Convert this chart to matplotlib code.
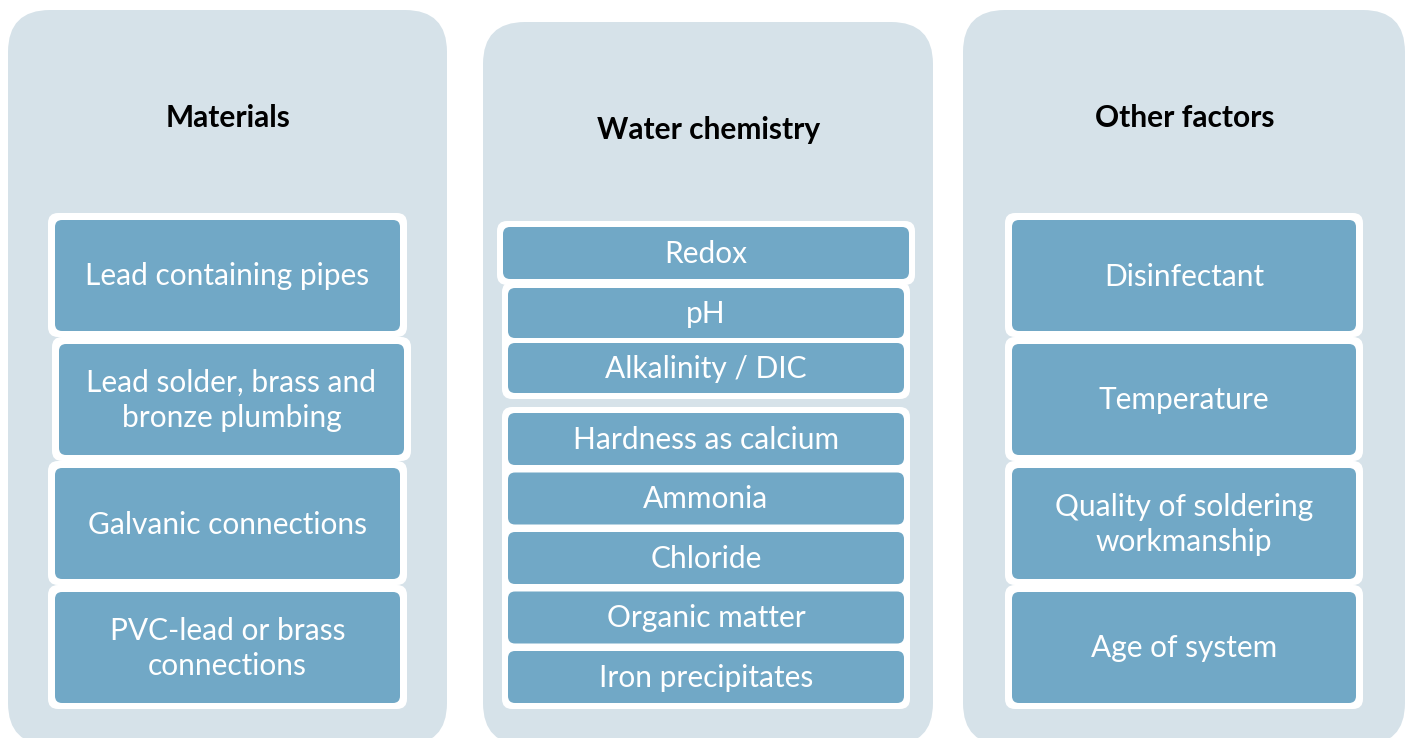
import matplotlib
matplotlib.use("Agg")
import matplotlib.pyplot as plt
from matplotlib.patches import FancyBboxPatch

# panel titles and the items inside them
titles = ["Materials", "Water chemistry", "Other factors"]
materials = ["Lead containing pipes", "Lead solder, brass and\nbronze plumbing",
             "Galvanic connections", "PVC-lead or brass\nconnections"]
chemistry_groups = [["Redox"],
                    ["pH", "Alkalinity / DIC"],
                    ["Hardness as calcium", "Ammonia", "Chloride", "Organic matter", "Iron precipitates"]]
other = ["Disinfectant", "Temperature", "Quality of soldering\nworkmanship", "Age of system"]

# colours
c_panel = "#D6E2E9"
c_box = "#71A8C6"
c_edge = "white"

plt.rcParams['font.family'] = ['Lato', 'DejaVu Sans']

fig = plt.figure(figsize=(14.08, 7.38), dpi=100)
ax = fig.add_axes([0, 0, 1, 1])
ax.set_xlim(0, 1408)
ax.set_ylim(738, 0)
ax.axis("off")


def rbox(x0, y0, x1, y1, r, color, z):
    p = FancyBboxPatch((x0, y0), x1 - x0, y1 - y0,
                       boxstyle="round,pad=0,rounding_size=%s" % r,
                       fc=color, ec="none", zorder=z)
    ax.add_patch(p)


def item(x0, y0, x1, y1, label, border=True):
    if border:
        rbox(x0 - 7, y0 - 7, x1 + 7, y1 + 6, 10, c_edge, 2)
    rbox(x0, y0, x1, y1, 7, c_box, 3)
    ax.text((x0 + x1) / 2, (y0 + y1) / 2 + 1, label, color="white", fontsize=21.5,
            ha="center", va="center", linespacing=1.32, zorder=4)


# big background panels
panels = [(8, 10, 447, 745), (483, 22, 933, 745), (963, 10, 1405, 745)]
title_y = [118, 130, 118]
for (x0, y0, x1, y1), t, ty in zip(panels, titles, title_y):
    rbox(x0, y0, x1, y1, 42, c_panel, 1)
    ax.text((x0 + x1) / 2 + 1, ty, t, fontsize=21.5, fontweight="bold",
            ha="center", va="center", color="black", zorder=4)

# side columns: 4 equal boxes
box_h = 111
pitch = 124
top = 220
dx_left = [0, 4, 0, 0]
for i, lab in enumerate(materials):
    y0 = top + i * pitch
    item(55 + dx_left[i], y0, 400 + dx_left[i], y0 + box_h, lab)
for i, lab in enumerate(other):
    y0 = top + i * pitch
    item(1012, y0, 1356, y0 + box_h, lab)

# middle column: grouped thin boxes
group_h = [52, 50, 52]
group_gap = [7.5, 5, 7.5]
group_top = [227, 288, 413]
group_x = [(503, 909), (508, 904), (508, 904)]
for g, labs in enumerate(chemistry_groups):
    x0, x1 = group_x[g]
    h, gap = group_h[g], group_gap[g]
    y_start = group_top[g]
    y_end = y_start + len(labs) * h + (len(labs) - 1) * gap
    rbox(x0 - 6, y_start - 6, x1 + 6, y_end + 6, 10, c_edge, 2)
    for k, lab in enumerate(labs):
        y0 = y_start + k * (h + gap)
        item(x0, y0, x1, y0 + h, lab, border=False)

fig.savefig("out.png", dpi=100)
